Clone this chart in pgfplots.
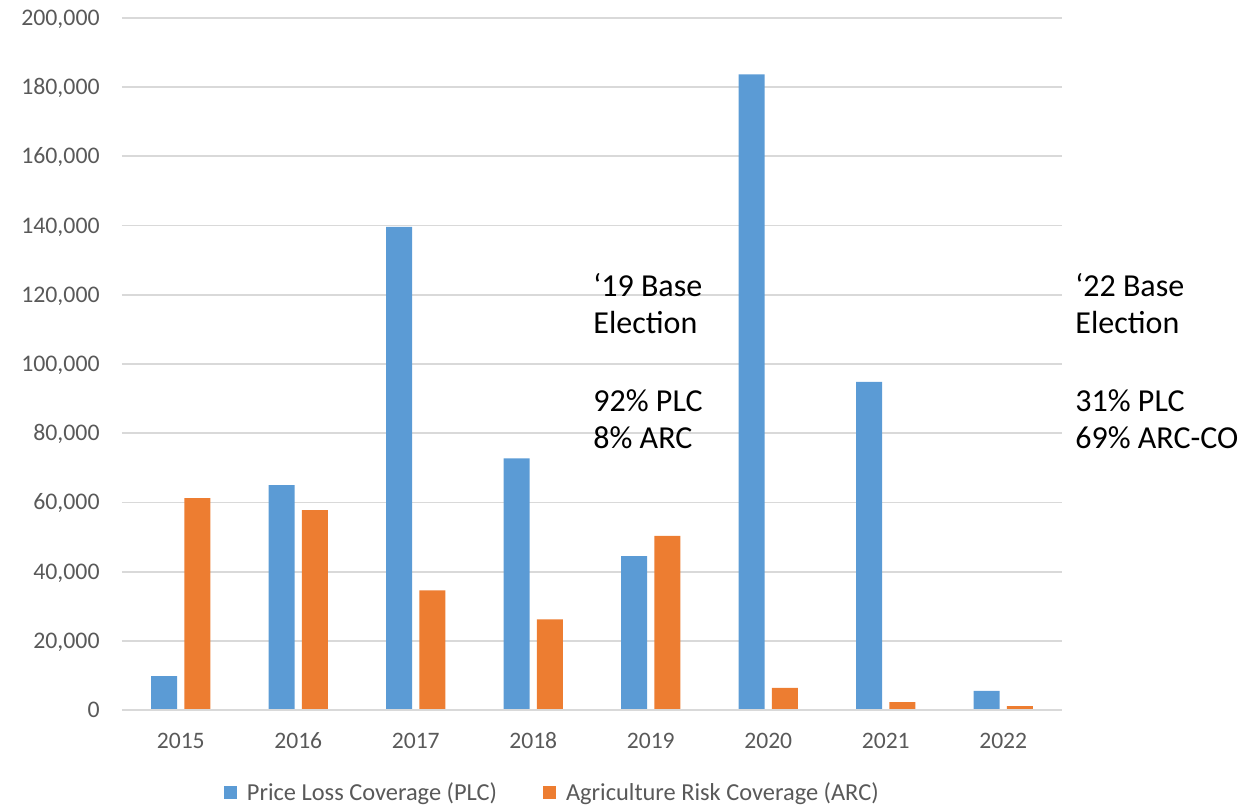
\documentclass[border=0pt]{standalone}
\usepackage{pgfplots}
\pgfplotsset{compat=1.18}
\usepackage{fontspec}
\setmainfont{Carlito}
\definecolor{plc}{HTML}{5B9BD5}
\definecolor{arc}{HTML}{ED7D31}
\definecolor{gridc}{HTML}{D9D9D9}
\definecolor{tickc}{HTML}{595959}
\begin{document}
\begin{tikzpicture}
\begin{axis}[
  at={(0,0)}, anchor=south west,
  scale only axis,
  width=470bp, height=346bp,
  ybar=3.6bp, bar width=13bp,
  xmin=-0.5, xmax=7.5,
  ymin=0, ymax=200000,
  xtick=data,
  xticklabels={2015,2016,2017,2018,2019,2020,2021,2022},
  ytick={0,20000,...,200000},
  major tick length=0pt,
  axis line style={draw=none},
  ymajorgrids,
  grid style={gridc, line width=0.9bp},
  /pgf/number format/assume math mode=true,
  /pgf/number format/.cd, fixed, 1000 sep={,},
  /pgfplots/.cd,
  scaled y ticks=false,
  yticklabel style={font=\fontsize{11.9bp}{13bp}\selectfont, text=tickc, anchor=base east, inner sep=0pt, xshift=-11bp, yshift=-3.8bp},
  xticklabel style={font=\fontsize{11.8bp}{13bp}\selectfont, text=tickc, anchor=base, inner sep=0pt, yshift=-19bp},
  legend columns=2,
  legend style={at={(axis description cs:0.4620,-0.1199)}, anchor=center, draw=none,
    font=\fontsize{12.2bp}{14bp}\selectfont, text=tickc, inner sep=0pt,
    nodes={inner xsep=5bp, inner ysep=0pt},
    /tikz/every even column/.append style={column sep=18bp}},
  legend image code/.code={\fill[#1,draw=none] (0bp,-3.25bp) rectangle (6.5bp,3.25bp);},
  clip=false,
]
\addplot[fill=plc, draw=none] coordinates {(0,9800) (1,65000) (2,139600) (3,72700) (4,44500) (5,183700) (6,94800) (7,5500)};
\addplot[fill=arc, draw=none] coordinates {(0,61200) (1,57800) (2,34600) (3,26200) (4,50300) (5,6400) (6,2300) (7,1100)};
\draw[gridc, line width=0.9bp] (rel axis cs:0,0) -- (rel axis cs:1,0);
\legend{Price Loss Coverage (PLC), Agriculture Risk Coverage (ARC)}
\end{axis}
\begin{scope}[every node/.style={anchor=base west, inner sep=0pt, font=\fontsize{16bp}{19bp}\selectfont}]
\node at (235.5bp,206.65bp) {‘19 Base};
\node at (235.5bp,188bp) {Election};
\node at (235.5bp,149.15bp) {92\% PLC};
\node at (235.5bp,130.5bp) {8\% ARC};
\node at (476.5bp,206.65bp) {‘22 Base};
\node at (476.5bp,188bp) {Election};
\node at (476.5bp,149.15bp) {31\% PLC};
\node at (476.5bp,130.5bp) {69\% ARC-CO};
\end{scope}
\pgfresetboundingbox
\path[use as bounding box] (-61bp,-48.5bp) rectangle (564bp,355bp);
\end{tikzpicture}
\end{document}
